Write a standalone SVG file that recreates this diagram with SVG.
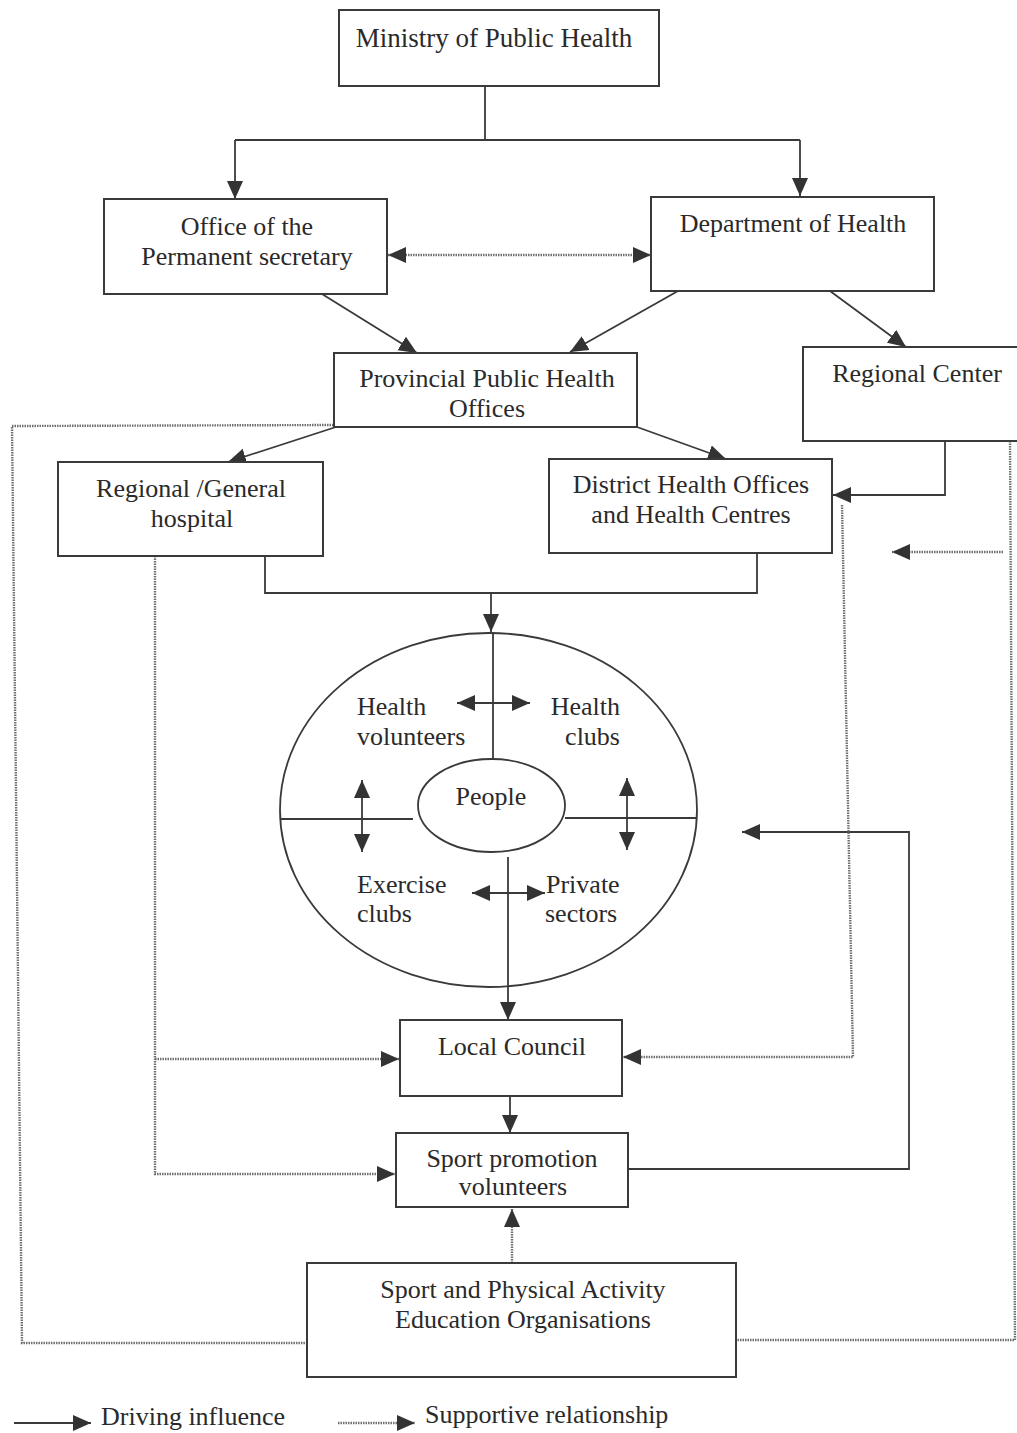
<svg xmlns="http://www.w3.org/2000/svg" width="1017" height="1433" viewBox="0 0 1017 1433">
  <style>
    .box { fill: #fff; stroke: #3a3a3a; stroke-width: 2; }
    .lbl { font-family: "Liberation Serif", "Times New Roman", serif; font-size: 26px; fill: #2a2a2a; }
    .mid { text-anchor: middle; }
    .end { text-anchor: end; }
    .solid { fill: none; stroke: #3a3a3a; stroke-width: 1.8; }
    .dot { fill: none; stroke: #6e6e6e; stroke-width: 2.4; stroke-dasharray: 1.5 1; }
  </style>
  <defs>
    <marker id="head" viewBox="0 0 18 16" markerWidth="18" markerHeight="17" refX="18" refY="8" orient="auto-start-reverse" markerUnits="userSpaceOnUse">
      <path d="M0,0 L18,8 L0,16 Z" fill="#333"/>
    </marker>
  </defs>

  <rect width="1017" height="1433" fill="#fff"/>

  <!-- connectors -->
  <g id="connectors">
    <!-- driving influence (solid) -->
    <path class="solid" d="M485,86 V140 M235,140 H800"/>
    <path class="solid" d="M235,140 V199" marker-end="url(#head)"/>
    <path class="solid" d="M800,140 V196" marker-end="url(#head)"/>
    <path class="solid" d="M322,294 L417,353" marker-end="url(#head)"/>
    <path class="solid" d="M678,291 L570,352" marker-end="url(#head)"/>
    <path class="solid" d="M830,291 L906,347" marker-end="url(#head)"/>
    <path class="solid" d="M336,427 L228,462" marker-end="url(#head)"/>
    <path class="solid" d="M637,427 L726,459" marker-end="url(#head)"/>
    <path class="solid" d="M945,441 V495 H833" marker-end="url(#head)"/>
    <path class="solid" d="M265,556 V593 H757 V553"/>
    <path class="solid" d="M491,593 V632" marker-end="url(#head)"/>
    <path class="solid" d="M493,632 V759"/>
    <path class="solid" d="M508,857 V1020" marker-end="url(#head)"/>
    <path class="solid" d="M510,1097 V1133" marker-end="url(#head)"/>
    <path class="solid" d="M628,1169 H909 V832 H742" marker-end="url(#head)"/>
    <!-- exchanges inside the community circle -->
    <path class="solid" d="M457,703 H530" marker-start="url(#head)" marker-end="url(#head)"/>
    <path class="solid" d="M362,780 V852" marker-start="url(#head)" marker-end="url(#head)"/>
    <path class="solid" d="M627,778 V850" marker-start="url(#head)" marker-end="url(#head)"/>
    <path class="solid" d="M472,893 H545" marker-start="url(#head)" marker-end="url(#head)"/>

    <!-- supportive relationship (dotted) -->
    <path class="dot" d="M388,255 H651" marker-start="url(#head)" marker-end="url(#head)"/>
    <path class="dot" d="M336,425 L12,426 L22,1343 H306"/>
    <path class="dot" d="M1010,441 L1015,1340 H737"/>
    <path class="dot" d="M1003,552 H892" marker-end="url(#head)"/>
    <path class="dot" d="M155,556 V1174 H395" marker-end="url(#head)"/>
    <path class="dot" d="M155,1059 H399" marker-end="url(#head)"/>
    <path class="dot" d="M842,505 L853,1057 H623" marker-end="url(#head)"/>
    <path class="dot" d="M512,1263 V1209" marker-end="url(#head)"/>
  </g>

  <!-- nodes -->
  <g id="ministry">
    <rect class="box" x="339" y="10" width="320" height="76"/>
    <text class="lbl mid" x="494" y="47" style="font-size:27px">Ministry of Public Health</text>
  </g>
  <g id="permanent-secretary">
    <rect class="box" x="104" y="199" width="283" height="95"/>
    <text class="lbl mid" x="247" y="235">Office of the</text>
    <text class="lbl mid" x="247" y="265">Permanent secretary</text>
  </g>
  <g id="department-of-health">
    <rect class="box" x="651" y="197" width="283" height="94"/>
    <text class="lbl mid" x="793" y="232">Department of Health</text>
  </g>
  <g id="provincial-offices">
    <rect class="box" x="334" y="353" width="303" height="74"/>
    <text class="lbl mid" x="487" y="387">Provincial Public Health</text>
    <text class="lbl mid" x="487" y="417">Offices</text>
  </g>
  <g id="regional-center">
    <rect class="box" x="803" y="347" width="240" height="94"/>
    <text class="lbl mid" x="917" y="382">Regional Center</text>
  </g>
  <g id="regional-hospital">
    <rect class="box" x="58" y="462" width="265" height="94"/>
    <text class="lbl mid" x="191" y="497">Regional /General</text>
    <text class="lbl mid" x="192" y="527">hospital</text>
  </g>
  <g id="district-offices">
    <rect class="box" x="549" y="459" width="283" height="94"/>
    <text class="lbl mid" x="691" y="493">District Health Offices</text>
    <text class="lbl mid" x="691" y="523">and Health Centres</text>
  </g>

  <g id="community-circle">
    <ellipse cx="488.5" cy="810" rx="208.5" ry="177" fill="none" stroke="#3a3a3a" stroke-width="1.8"/>
    <path class="solid" d="M280,819 H413 M565,818 H697"/>
  </g>
  <g id="people">
    <ellipse cx="491.5" cy="805.5" rx="73.5" ry="46.5" fill="#fff" stroke="#3a3a3a" stroke-width="1.8"/>
    <text class="lbl mid" x="491" y="805">People</text>
  </g>
  <g id="health-volunteers">
    <text class="lbl" x="357" y="715">Health</text>
    <text class="lbl" x="357" y="745">volunteers</text>
  </g>
  <g id="health-clubs">
    <text class="lbl end" x="620" y="715">Health</text>
    <text class="lbl end" x="620" y="745">clubs</text>
  </g>
  <g id="exercise-clubs">
    <text class="lbl" x="357" y="893">Exercise</text>
    <text class="lbl" x="357" y="922">clubs</text>
  </g>
  <g id="private-sectors">
    <text class="lbl" x="546" y="893">Private</text>
    <text class="lbl" x="545" y="922">sectors</text>
  </g>

  <g id="local-council">
    <rect class="box" x="400" y="1020" width="222" height="76"/>
    <text class="lbl mid" x="512" y="1055">Local Council</text>
  </g>
  <g id="sport-promotion-volunteers">
    <rect class="box" x="396" y="1133" width="232" height="74"/>
    <text class="lbl mid" x="512" y="1167">Sport promotion</text>
    <text class="lbl mid" x="513" y="1195">volunteers</text>
  </g>
  <g id="sport-education-organisations">
    <rect class="box" x="307" y="1263" width="429" height="114"/>
    <text class="lbl mid" x="523" y="1298">Sport and Physical Activity</text>
    <text class="lbl mid" x="523" y="1328">Education Organisations</text>
  </g>

  <!-- legend -->
  <g id="legend">
    <path class="solid" d="M14,1423 H91" marker-end="url(#head)"/>
    <text class="lbl" x="101" y="1425">Driving influence</text>
    <path class="dot" d="M338,1423 H415" marker-end="url(#head)"/>
    <text class="lbl" x="425" y="1423">Supportive relationship</text>
  </g>
</svg>
